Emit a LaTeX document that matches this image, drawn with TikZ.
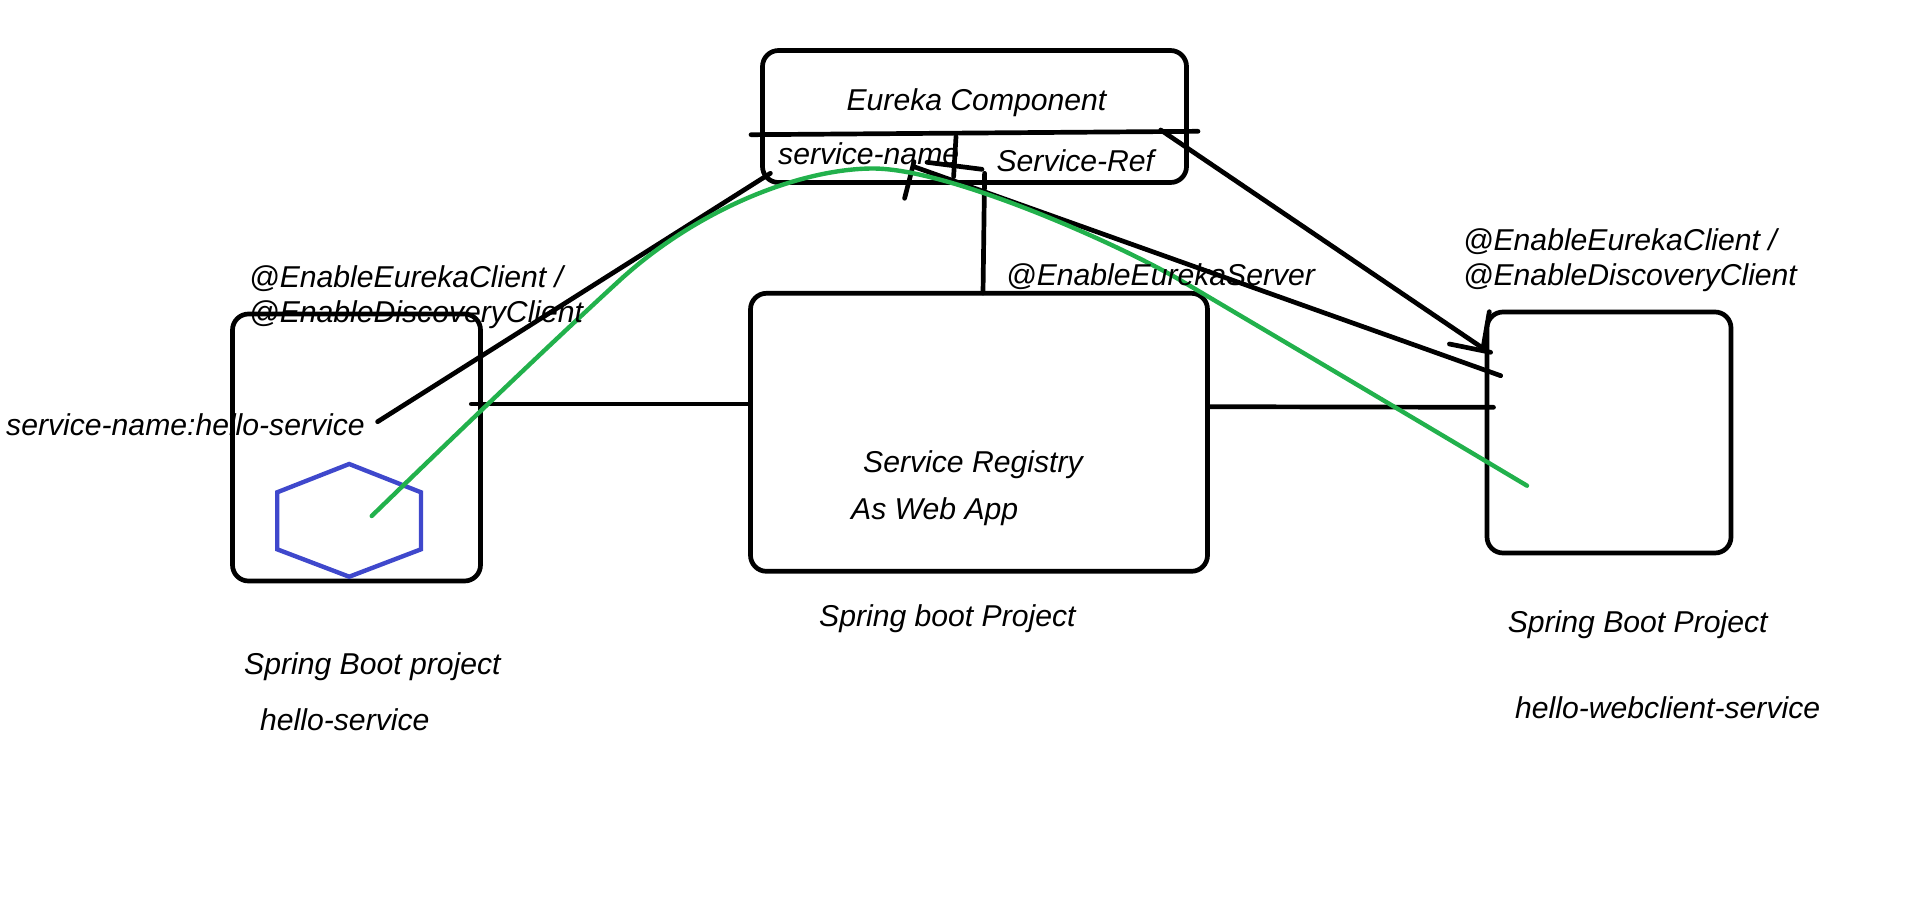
\documentclass[tikz,border=0pt]{standalone}
\usepackage{fontspec}
\setmainfont{Liberation Sans}
\tikzset{
  x=1pt,y=-1pt,
  inkline/.style={draw=black,line width=4.7pt,line cap=round,line join=round},
  panel/.style={inkline,rounded corners=16pt,inner sep=0pt,outer sep=0pt,anchor=north west},
  hexline/.style={draw=hexblue,line width=4.4pt,line join=miter},
  greenline/.style={draw=inkgreen,line width=4.4pt,line cap=round,line join=round},
  label/.style={inner sep=0pt,anchor=base west,font=\fontsize{30.15}{36}\selectfont\itshape},
}
\definecolor{hexblue}{HTML}{3F48CC}
\definecolor{inkgreen}{HTML}{22B14C}
\begin{document}
\begin{tikzpicture}
\useasboundingbox (0,0) rectangle (1914,903);
% boxes
\node[panel,minimum width=424pt,minimum height=132pt] (eureka) at (762.5,50.5) {};
\node[panel,minimum width=248pt,minimum height=267pt] (client) at (232.5,314) {};
\node[panel,minimum width=457pt,minimum height=278pt] (registry) at (750.5,293.3) {};
\node[panel,minimum width=244pt,minimum height=241pt] (web) at (1487,312) {};
% free ends
\coordinate (divL) at (751,134.7);
\coordinate (divR) at (1198,131.3);
\coordinate (subT) at (956,136.7);
\coordinate (subB) at (953.6,176.7);
\coordinate (tickT) at (914,161.7);
\coordinate (tickB) at (904.6,198.3);
\coordinate (barL) at (927,162.3);
\coordinate (barR) at (982,169.3);
\coordinate (vertT) at (984.6,173.3);
\coordinate (vertB) at (983,293);
\coordinate (longL) at (914,166.7);
\coordinate (longR) at (1500.7,375.7);
\coordinate (arrS) at (1160.7,130);
\coordinate (arrE) at (1483,348.3);
\coordinate (headA) at (1449.4,344);
\coordinate (headB) at (1490.6,352.3);
\coordinate (headC) at (1489.3,311.7);
\coordinate (leftS) at (377.6,421.7);
\coordinate (leftE) at (770.4,173.3);
\coordinate (hL1) at (471.3,404);
\coordinate (hL2) at (750.5,404);
\coordinate (hR1) at (1209.5,406.7);
\coordinate (hR2) at (1493.5,407.3);
\coordinate (gs) at (371.7,516);
\coordinate (g1) at (620,280);
\coordinate (g2) at (873,168.5);
\coordinate (g3) at (1180,280);
\coordinate (ge) at (1527,485.7);
% black strokes
\draw[inkline] (divL) -- (divR);
\draw[inkline] (subT) -- (subB);
\draw[inkline] (tickT) -- (tickB);
\draw[inkline] (barL) -- (barR);
\draw[inkline] (vertT) -- (vertB);
\draw[inkline] (longL) -- (longR);
\draw[inkline] (arrS) -- (arrE);
\draw[inkline] (headA) -- (headB);
\draw[inkline] (headC) -- (arrE);
\draw[inkline] (leftS) -- (leftE);
\draw[inkline] (hL1) -- (hL2);
\draw[inkline] (hR1) -- (hR2);
% hexagon
\draw[hexline] (349.2,464) -- (421,492.3) -- (421,549.3) -- (349.2,576.7) -- (277.2,549.3) -- (277.2,492.3) -- cycle;
% green curve
\draw[greenline] (gs) .. controls (480,411) and (560,335) .. (g1)
  .. controls (700,207) and (803,168.5) .. (g2)
  .. controls (950,168.5) and (1120,245) .. (g3)
  .. controls (1290,345) and (1400,410) .. (ge);
% labels
\node[label] (t1) at (846.4,110) {Eureka Component};
\node[label] (t2) at (778,164.5) {service-name};
\node[label] (t3) at (996.4,171) {Service-Ref};
\node[label] (t4) at (1006,285) {@EnableEurekaServer};
\node[label] (t5) at (249,287) {@EnableEurekaClient /};
\node[label] (t6) at (249,322) {@EnableDiscoveryClient};
\node[label] (t7) at (6,435) {service-name:hello-service};
\node[label] (t8) at (1462.8,250) {@EnableEurekaClient /};
\node[label] (t9) at (1462.8,285.6) {@EnableDiscoveryClient};
\node[label] (t10) at (863,472) {Service Registry};
\node[label] (t11) at (851,519) {As Web App};
\node[label] (t12) at (819,626) {Spring boot Project};
\node[label] (t13) at (1507.6,632.5) {Spring Boot Project};
\node[label] (t14) at (244,674) {Spring Boot project};
\node[label] (t15) at (260,730) {hello-service};
\node[label] (t16) at (1515,718) {hello-webclient-service};
\end{tikzpicture}
\end{document}
